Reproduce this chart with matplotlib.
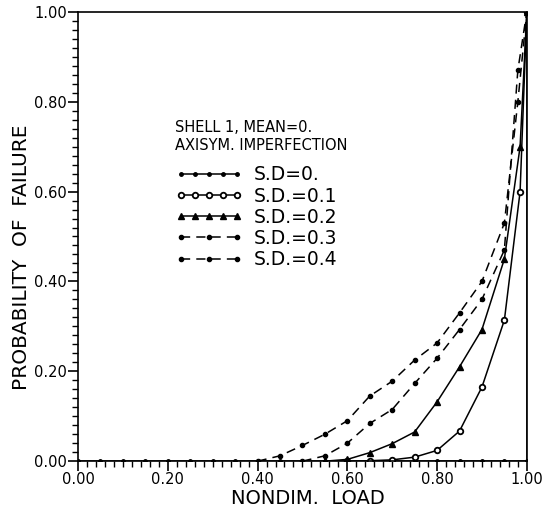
import matplotlib
matplotlib.use("Agg")
from matplotlib import pyplot as plt
from matplotlib.ticker import MultipleLocator
from matplotlib.legend_handler import HandlerLine2D

plt.rcParams['font.family'] = ['DejaVu Sans']

# S.D.=0.
x0 = [0.0, 0.05, 0.10, 0.15, 0.20, 0.25, 0.30, 0.35, 0.40, 0.45, 0.50,
      0.55, 0.60, 0.65, 0.70, 0.75, 0.80, 0.85, 0.90, 0.95, 1.0, 1.0]
y0 = [0.0] * 21 + [1.0]

# S.D.=0.1
x1 = [0.60, 0.65, 0.70, 0.75, 0.80, 0.85, 0.90, 0.95, 0.985, 1.0]
y1 = [0.0, 0.001, 0.003, 0.009, 0.024, 0.067, 0.165, 0.314, 0.60, 1.0]

# S.D.=0.2
x2 = [0.55, 0.60, 0.65, 0.70, 0.75, 0.80, 0.85, 0.90, 0.95, 0.985, 1.0]
y2 = [0.0, 0.004, 0.019, 0.039, 0.065, 0.132, 0.21, 0.293, 0.45, 0.70, 1.0]

# S.D.=0.3
x3 = [0.50, 0.55, 0.60, 0.65, 0.70, 0.75, 0.80, 0.85, 0.90, 0.95, 0.98, 1.0]
y3 = [0.0, 0.012, 0.04, 0.084, 0.115, 0.173, 0.229, 0.293, 0.36, 0.47, 0.87, 1.0]

# S.D.=0.4
x4 = [0.40, 0.45, 0.50, 0.55, 0.60, 0.65, 0.70, 0.75, 0.80, 0.85, 0.90, 0.95, 0.98, 1.0]
y4 = [0.0, 0.012, 0.035, 0.06, 0.09, 0.145, 0.178, 0.225, 0.263, 0.33, 0.40, 0.53, 0.80, 1.0]

labels = ["S.D=0.", "S.D.=0.1", "S.D.=0.2", "S.D.=0.3", "S.D.=0.4"]
ticks = [0.0, 0.2, 0.4, 0.6, 0.8, 1.0]
tick_labels = ["0.00", "0.20", "0.40", "0.60", "0.80", "1.00"]

fig = plt.figure(figsize=(5.42, 5.13), dpi=100)
ax = fig.add_axes([0.144, 0.101, 0.828, 0.876])

ax.plot(x0, y0, 'k-', marker='o', ms=2.5, lw=1.1, label=labels[0])
ax.plot(x1, y1, 'k-', marker='o', ms=4, mfc='white', mew=1.3, lw=1.1, label=labels[1])
ax.plot(x2, y2, 'k-', marker='^', ms=4.5, lw=1.1, label=labels[2])
l3, = ax.plot(x3, y3, 'k', ls=(0, (6, 4)), marker='o', ms=3, lw=1.1, label=labels[3])
l4, = ax.plot(x4, y4, 'k', ls=(0, (6, 4)), marker='o', ms=3, lw=1.1, label=labels[4])

ax.set_xlim(0, 1)
ax.set_ylim(0, 1)
ax.set_xticks(ticks)
ax.set_xticklabels(tick_labels)
ax.set_yticks(ticks)
ax.set_yticklabels(tick_labels)
ax.xaxis.set_minor_locator(MultipleLocator(0.02))
ax.yaxis.set_minor_locator(MultipleLocator(0.02))
ax.tick_params(which='major', direction='out', length=7, width=1.2, labelsize=10.5, pad=1)
ax.tick_params(which='minor', direction='out', length=4, width=1)
for s in ax.spines.values():
    s.set_linewidth(1.2)

ax.set_xlabel("NONDIM.  LOAD", fontsize=14)
ax.xaxis.set_label_coords(0.512, -0.062)
ax.set_ylabel("PROBABILITY  OF  FAILURE", fontsize=14.5)
ax.yaxis.set_label_coords(-0.105, 0.454)

leg = ax.legend(title="SHELL 1, MEAN=0.\nAXISYM. IMPERFECTION", loc='upper left',
                bbox_to_anchor=(0.2, 0.775), frameon=False, fontsize=13.5,
                title_fontsize=10.5, numpoints=5, handlelength=3.6,
                handletextpad=0.6, labelspacing=0.12, borderaxespad=0,
                handler_map={l3: HandlerLine2D(numpoints=3),
                             l4: HandlerLine2D(numpoints=3)})
leg._legend_box.align = "left"
leg._legend_box.sep = 9

fig.savefig("out.png", dpi=100)
